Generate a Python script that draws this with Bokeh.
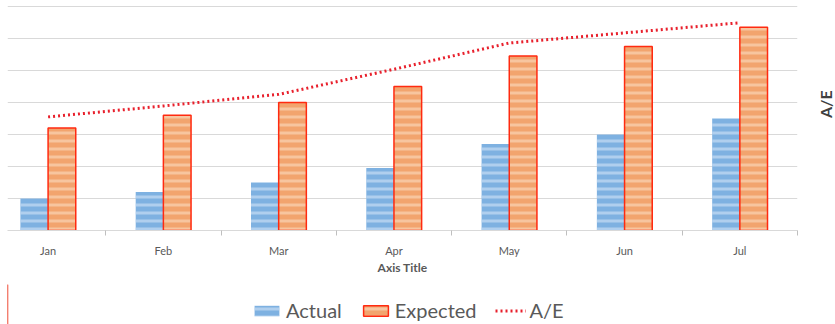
import math
from bokeh.plotting import figure
from bokeh.layouts import column
from bokeh.models import (ColumnDataSource, Range1d, LinearAxis, FixedTicker, Legend, LegendItem)
from bokeh.transform import dodge
from bokeh.embed import file_html
from bokeh.resources import INLINE

months = ["Jan", "Feb", "Mar", "Apr", "May", "Jun", "Jul"]
actual = [10, 12, 15, 19.5, 27, 30, 35]
expected = [32, 36, 40, 45, 54.5, 57.5, 63.5]
ae = [0.303, 0.332, 0.363, 0.43, 0.5, 0.527, 0.554]
series_names = ["Actual", "Expected", "A/E"]

pos = [i + 0.5 for i in range(len(months))]
src = ColumnDataSource(dict(pos=pos, month=months, actual=actual, expected=expected, ae=ae))

FONT = "Lato"
ACT = dict(fill_color="#7eb1e1", line_color=None, hatch_pattern="horizontal_line",
           hatch_color="#c4dcf3", hatch_scale=8, hatch_weight=3, hatch_alpha=0.7)
EXP = dict(fill_color="#f2a46e", line_color="#ff2a10", line_width=1.5, hatch_pattern="horizontal_line",
           hatch_color="#f9cdab", hatch_scale=8, hatch_weight=3, hatch_alpha=0.8)
AE = dict(line_color="#e8202c", line_width=3, line_dash="2 3")

p = figure(frame_width=790, frame_height=225, output_backend="svg", toolbar_location=None,
           x_range=Range1d(0.148, 7.0), y_range=Range1d(0, 70.3),
           y_axis_location=None, min_border_left=7, min_border_top=5,
           min_border_right=38, min_border_bottom=54, outline_line_color=None)
p.extra_y_ranges = {"ae": Range1d(0, 0.6)}

p.ygrid.ticker = FixedTicker(ticks=[10, 20, 30, 40, 50, 60, 70])
p.ygrid.grid_line_color = "#d9d9d9"
p.xgrid.grid_line_color = None

p.vbar(x=dodge("pos", -0.12), top="actual", width=0.24, source=src, **ACT)
p.vbar(x=dodge("pos", 0.12), top="expected", width=0.24, source=src, **EXP)
p.line(x="pos", y="ae", source=src, y_range_name="ae", **AE)

xa = p.xaxis[0]
xa.ticker = FixedTicker(ticks=pos, minor_ticks=[1, 2, 3, 4, 5, 6, 7])
xa.major_label_overrides = {pos[i]: months[i] for i in range(len(months))}
xa.major_tick_out = 0
xa.major_tick_in = 0
xa.minor_tick_out = 5
xa.minor_tick_in = 0
xa.minor_tick_line_color = "#bfbfbf"
xa.axis_line_color = "#d9d9d9"
xa.major_label_text_font = FONT
xa.major_label_text_font_size = "11px"
xa.major_label_text_color = "#595959"
xa.major_label_standoff = 8
xa.axis_label = "Axis Title"
xa.axis_label_text_font = FONT
xa.axis_label_text_font_size = "12px"
xa.axis_label_text_font_style = "bold"
xa.axis_label_text_color = "#595959"
xa.axis_label_standoff = 0

ra = LinearAxis(y_range_name="ae", ticker=FixedTicker(ticks=[0.3]), axis_line_color=None,
                major_tick_line_color=None, minor_tick_line_color=None,
                major_label_overrides={0.3: "A/E"}, major_label_orientation=math.pi / 2,
                major_label_text_font=FONT, major_label_text_font_size="16px",
                major_label_text_font_style="bold", major_label_text_color="#404040",
                major_label_standoff=22)
p.add_layout(ra, "right")

# legend strip below the chart (its key renderers sit outside the strip's visible range)
p2 = figure(width=835, height=40, output_backend="svg", toolbar_location=None,
            x_range=Range1d(0, 1), y_range=Range1d(0, 1), x_axis_location=None, y_axis_location=None,
            min_border=0, outline_line_color=None)
p2.grid.visible = False
l_act = p2.vbar(x=[-10], top=[1], width=0.1, **ACT)
l_exp = p2.vbar(x=[-10], top=[1], width=0.1, **EXP)
l_ae = p2.line(x=[-10, -9], y=[0.5, 0.5], **AE)

legend = Legend(items=[LegendItem(label=series_names[0], renderers=[l_act]),
                       LegendItem(label=series_names[1], renderers=[l_exp]),
                       LegendItem(label=series_names[2], renderers=[l_ae])],
                orientation="horizontal", location=(244, 2),
                label_text_font=FONT, label_text_font_size="20px", label_text_color="#595959",
                label_height=16, glyph_width=31, glyph_height=13, spacing=18, label_standoff=4,
                border_line_color=None, background_fill_alpha=0, margin=0, padding=2)
p2.add_layout(legend, "center")

open("out.html", "w").write(file_html(column(p, p2, spacing=0), INLINE))
